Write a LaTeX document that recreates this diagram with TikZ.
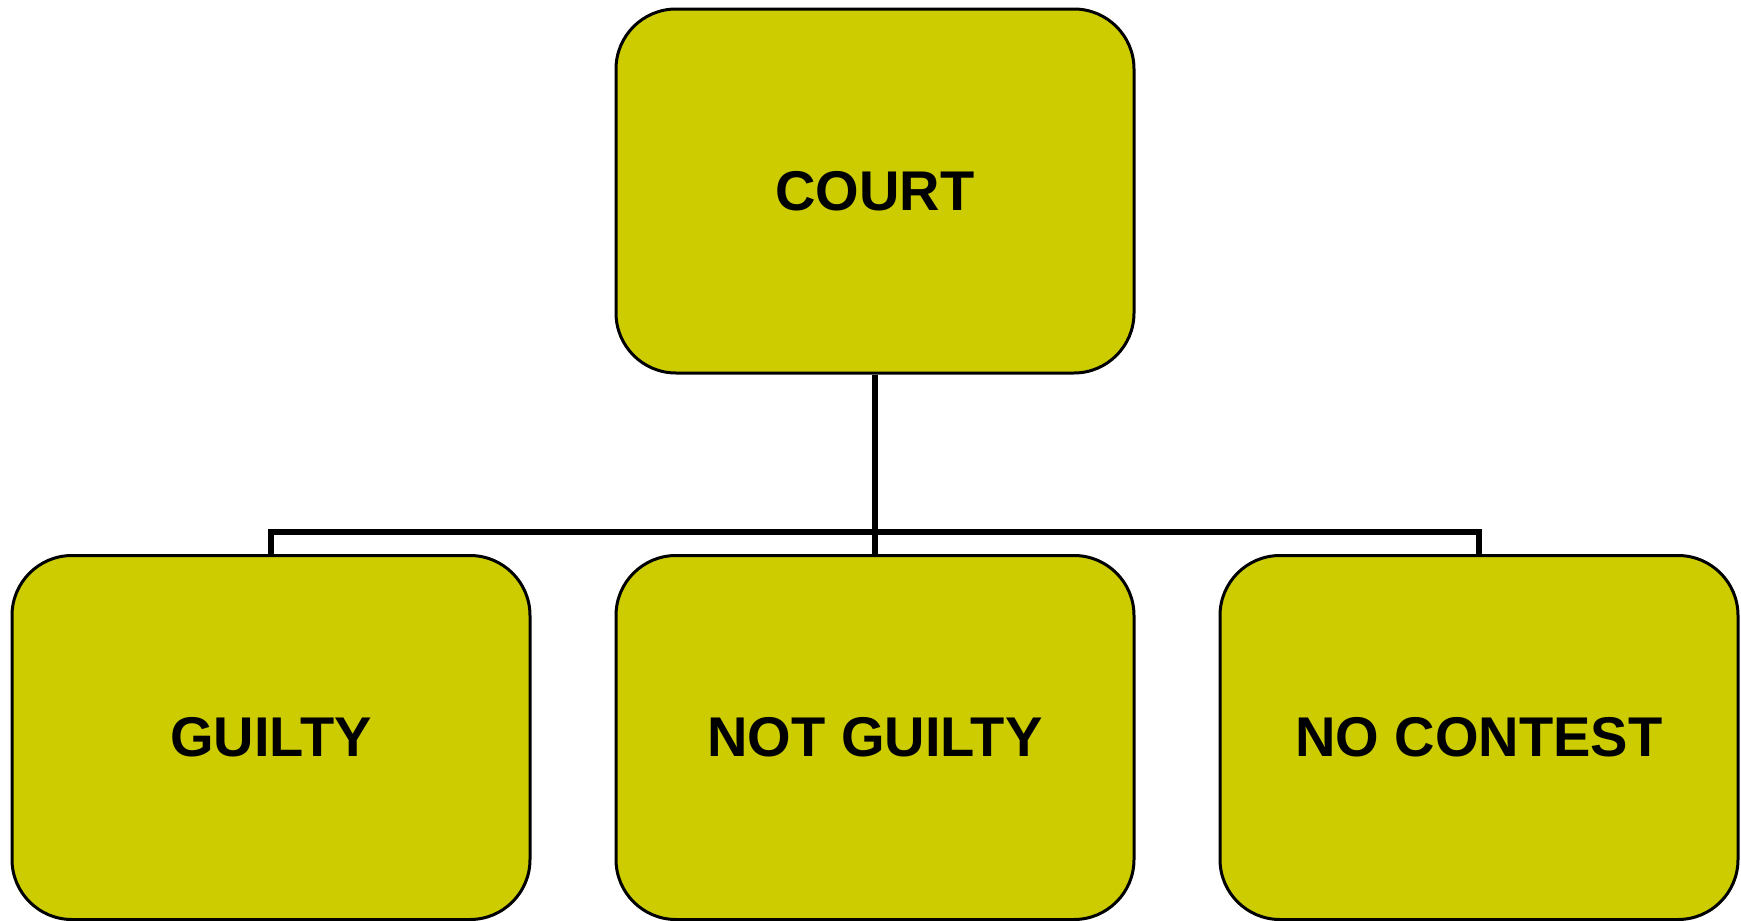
\documentclass[tikz,border=0pt]{standalone}
\usepackage{fontspec}
\setmainfont{Liberation Sans}
\definecolor{boxfill}{HTML}{CCCC00}
\begin{document}
\begin{tikzpicture}[x=1pt,y=-1pt,
  card/.style={draw=black, line width=3pt, fill=boxfill, rounded corners=60pt,
    minimum width=518pt, minimum height=364pt, inner sep=0pt,
    font=\fontsize{56}{66}\selectfont\bfseries, text=black},
  link/.style={draw=black, line width=5.5pt}]
\useasboundingbox (0,0) rectangle (1741,921);
\node[card] (court) at (875,191) {COURT};
\node[card] (guilty) at (271,737.5) {GUILTY};
\node[card] (notguilty) at (875,737.5) {NOT GUILTY};
\node[card] (nocontest) at (1479,737.5) {NO CONTEST};
\coordinate (bar) at (875,532);
\draw[link] (court.south) -- (notguilty.north);
\draw[link] (guilty.north) |- (bar) -| (nocontest.north);
\end{tikzpicture}
\end{document}
